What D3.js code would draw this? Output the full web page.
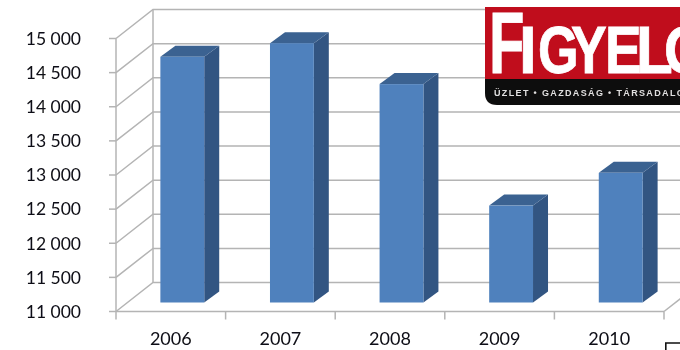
<!DOCTYPE html>
<html><head><meta charset="utf-8">
<script src="https://cdn.jsdelivr.net/npm/d3@7/dist/d3.min.js"></script>
<style>html,body{margin:0;padding:0;background:#fff}svg{display:block}</style>
</head><body>
<svg id="c" width="680" height="350"></svg>
<script>
const years = ["2006","2007","2008","2009","2010"];
const values = [14600,14800,14200,12420,12900];
const ticks = [11000,11500,12000,12500,13000,13500,14000,14500,15000];
const logoLetters = ["F","I","G","Y","E","L","Ó"];
const logoTag = "ÜZLET • GAZDASÁG • TÁRSADALOM";

const svg = d3.select("#c");
const defs = svg.append("defs");
defs.append("filter").attr("id","soft").append("feGaussianBlur").attr("stdDeviation",0.4);
defs.append("filter").attr("id","softer").append("feGaussianBlur").attr("stdDeviation",0.7);
const x = d3.scaleBand().domain(years).range([116,664]).paddingInner(0.6).paddingOuter(0.3);
const y = d3.scaleLinear().domain([11000,15000]).range([311.5,38.5]);
const wall = {dx:37,dy:-29}, barOff = {dx:11.5,dy:-9}, depth = {dx:15,dy:-11};
const grid = "#b4b4b4";
const g = svg.append("g").attr("fill","none").attr("stroke",grid).attr("stroke-width",1.5);
ticks.forEach(t=>{
  g.append("path").attr("d",`M116,${y(t)}L${116+wall.dx},${y(t)+wall.dy}L${664+wall.dx},${y(t)+wall.dy}`);
  g.append("line").attr("x1",109).attr("x2",116).attr("y1",y(t)).attr("y2",y(t));
});
g.append("line").attr("x1",116).attr("x2",116).attr("y1",y(15000)).attr("y2",y(11000));
g.append("line").attr("x1",116+wall.dx).attr("x2",116+wall.dx).attr("y1",y(15000)+wall.dy).attr("y2",y(11000)+wall.dy);
g.append("line").attr("x1",116).attr("x2",664).attr("y1",y(11000)).attr("y2",y(11000));
g.append("line").attr("x1",664).attr("x2",664+wall.dx).attr("y1",y(11000)).attr("y2",y(11000)+wall.dy);
d3.range(6).forEach(i=>{
  const px=116+i*x.step();
  g.append("line").attr("x1",px).attr("x2",px).attr("y1",y(11000)).attr("y2",y(11000)+8);
});
const bars = svg.append("g").attr("filter","url(#soft)").selectAll("g").data(years).join("g");
bars.each(function(d,i){
  const b=d3.select(this), l=x(d)+barOff.dx, w=x.bandwidth(), t=y(values[i])+barOff.dy, bt=y(11000)+barOff.dy;
  b.append("path").attr("fill","#335582").attr("d",`M${l+w},${t}l${depth.dx},${depth.dy}L${l+w+depth.dx},${bt+depth.dy}L${l+w},${bt}Z`);
  b.append("path").attr("fill","#3b6291").attr("d",`M${l},${t}l${depth.dx},${depth.dy}h${w}l${-depth.dx},${-depth.dy}Z`);
  b.append("rect").attr("x",l).attr("y",t).attr("width",w).attr("height",bt-t).attr("fill","#4f81bd");
});
const font="Lato, 'Open Sans', sans-serif";
svg.append("g").attr("filter","url(#soft)").selectAll("text").data(ticks).join("text")
  .attr("x",81).attr("y",d=>y(d)+6.3).attr("text-anchor","end")
  .attr("font-family",font).attr("font-size",17.5).attr("fill","#0c0c14")
  .text(d=>d3.format(",")(d).replace(","," "));
svg.append("g").attr("filter","url(#soft)").selectAll("text").data(years).join("text")
  .attr("x",d=>x(d)+x.bandwidth()/2).attr("y",345).attr("text-anchor","middle")
  .attr("font-family",font).attr("font-size",18).attr("fill","#0c0c14").text(d=>d);
// logo
const logo=svg.append("g").attr("filter","url(#softer)");
logo.append("path").attr("fill","#0c0a0a").attr("d","M485,70H680V105H497Q485,105 485,93Z");
logo.append("rect").attr("x",485).attr("y",7).attr("width",195).attr("height",72).attr("fill","#c00d1e");
const lx=[489,519,538,571,605,636,664], lsize=[88,67,67,67,67,67,67], lsx=[0.66,0.95,0.78,0.8,0.82,0.9,0.85];
logoLetters.forEach((c,i)=>{
  logo.append("text").attr("transform",`translate(${lx[i]},73) scale(${lsx[i]},1)`)
    .attr("font-family","'Liberation Sans Narrow','Liberation Sans',sans-serif").attr("font-weight",700)
    .attr("font-size",lsize[i]).attr("fill","#fff").attr("stroke","#fff").attr("stroke-width",0.8).text(c);
});
logo.append("text").attr("x",494).attr("y",96).attr("font-family","'Liberation Sans',sans-serif").attr("font-weight",700).attr("font-size",9).attr("letter-spacing",1.35).attr("fill","#e0e0e0").text(logoTag);
svg.append("path").attr("fill","none").attr("stroke","#111").attr("stroke-width",1.6).attr("d","M665.8,350V343H680");
</script>
</body></html>
